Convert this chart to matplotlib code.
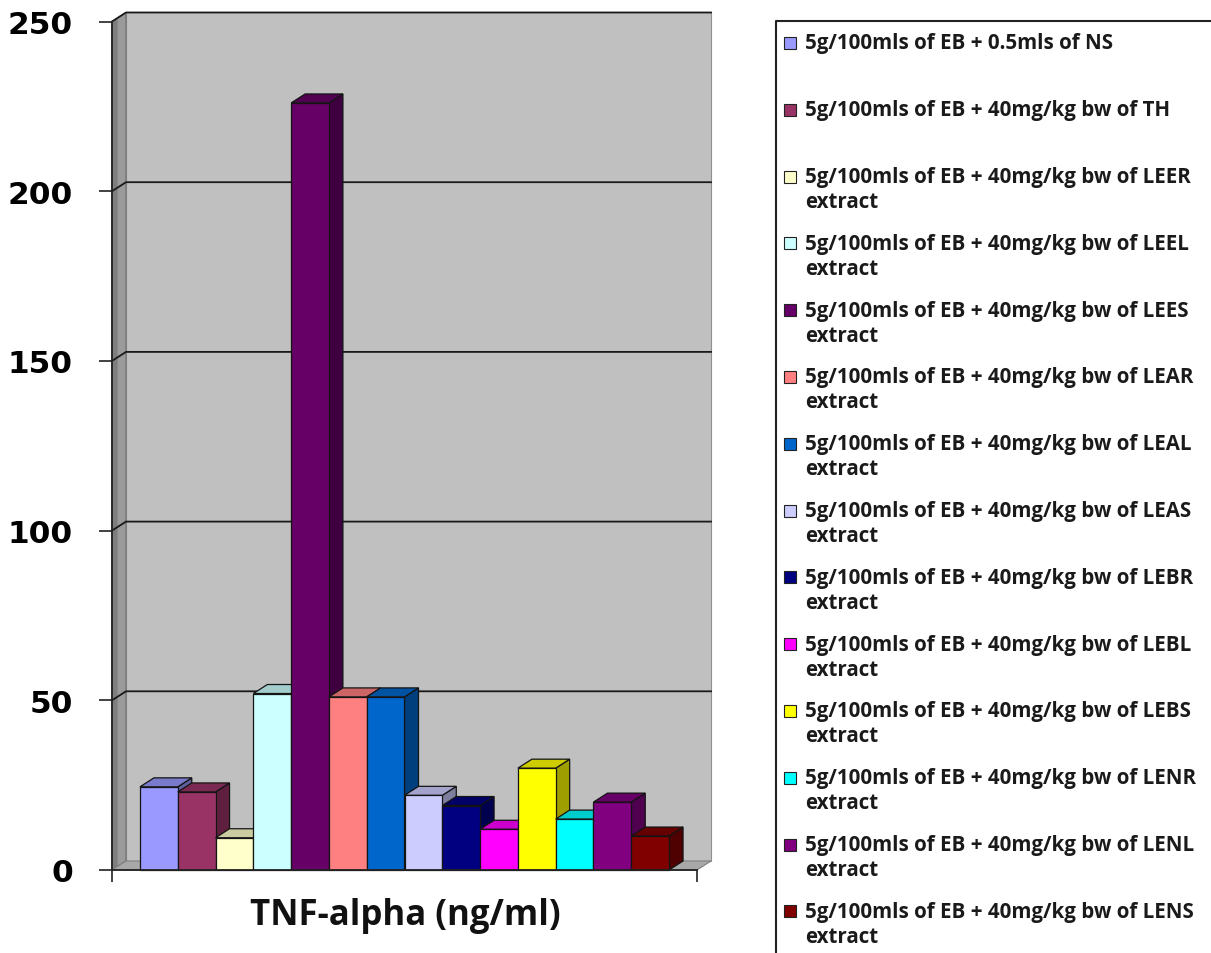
import matplotlib
matplotlib.use("Agg")
import matplotlib.pyplot as plt
from matplotlib.patches import Polygon, Rectangle
from matplotlib.lines import Line2D
from matplotlib.colors import to_rgb

# TNF-alpha per treatment group
groups = [
    "5g/100mls of EB + 0.5mls of NS",
    "5g/100mls of EB + 40mg/kg bw of TH",
    "5g/100mls of EB + 40mg/kg bw of LEER extract",
    "5g/100mls of EB + 40mg/kg bw of LEEL extract",
    "5g/100mls of EB + 40mg/kg bw of LEES extract",
    "5g/100mls of EB + 40mg/kg bw of LEAR extract",
    "5g/100mls of EB + 40mg/kg bw of LEAL extract",
    "5g/100mls of EB + 40mg/kg bw of LEAS extract",
    "5g/100mls of EB + 40mg/kg bw of LEBR extract",
    "5g/100mls of EB + 40mg/kg bw of LEBL extract",
    "5g/100mls of EB + 40mg/kg bw of LEBS extract",
    "5g/100mls of EB + 40mg/kg bw of LENR extract",
    "5g/100mls of EB + 40mg/kg bw of LENL extract",
    "5g/100mls of EB + 40mg/kg bw of LENS extract",
]
tnf = [24.5, 23, 9.5, 52, 226, 51, 51, 22, 19, 12, 30, 15, 20, 10]
colours = ["#9999FF", "#993366", "#FFFFCC", "#CCFFFF", "#660066", "#FF8080",
           "#0066CC", "#CCCCFF", "#000080", "#FF00FF", "#FFFF00", "#00FFFF",
           "#800080", "#800000"]
yticks = [0, 50, 100, 150, 200, 250]

W, H = 1211, 954
fig = plt.figure(figsize=(W / 100, H / 100), dpi=100)


def fx(x):
    return x / W


def fy(y):
    return 1 - y / H


# front plane of the 3-D box, in pixels
left, right, base, top = 112, 697, 871, 22.5
ax = fig.add_axes([fx(left), fy(base), (right - left) / W, (base - top) / H])
ax.set_facecolor("none")

n = len(tnf)
gap = 0.74
x0, x1 = -0.5 - gap, n - 0.5 + gap
ymax = yticks[-1]
ax.set_xlim(x0, x1)
ax.set_ylim(0, ymax)

# depth offset of the back wall, converted from pixels to data units
bar_px = (right - left) / (x1 - x0)
dx = 14 / bar_px
dy = 9 / ((base - top) / ymax)


def shade(c, f):
    return tuple(v * f for v in to_rgb(c))


# walls and floor
ax.add_patch(Polygon([(x0 + dx, dy), (x1 + dx, dy), (x1 + dx, ymax + dy), (x0 + dx, ymax + dy)],
                     closed=True, fc="#C0C0C0", ec="#909090", lw=0.8, clip_on=False, zorder=0))
ax.add_patch(Polygon([(x0, 0), (x0 + dx, dy), (x0 + dx, ymax + dy), (x0, ymax)],
                     closed=True, fc="#9A9A9A", ec="#6E6E6E", lw=0.8, clip_on=False, zorder=0.5))
ax.add_patch(Polygon([(x0, 0), (x0 + dx * 0.4, dy * 0.4), (x0 + dx * 0.4, ymax + dy * 0.4), (x0, ymax)],
                     closed=True, fc="#7E7E7E", ec="none", clip_on=False, zorder=0.6))
ax.add_patch(Polygon([(x0, 0), (x1, 0), (x1 + dx, dy), (x0 + dx, dy)],
                     closed=True, fc="#A8A8A8", ec="#808080", lw=0.8, clip_on=False, zorder=0.7))

# gridlines run across the left wall and the back wall
for v in yticks[1:]:
    ax.add_line(Line2D([x0, x0 + dx, x1 + dx], [v, v + dy, v + dy],
                       color="#1a1a1a", lw=1.3, clip_on=False, zorder=1))

# 3-D columns: side, top, front for each bar, left to right
for i, (v, c) in enumerate(zip(tnf, colours)):
    a, b = i - 0.5, i + 0.5
    z = 2 + i
    ax.add_patch(Polygon([(b, 0), (b + dx, dy), (b + dx, v + dy), (b, v)], closed=True,
                         fc=shade(c, 0.62), ec="#141414", lw=0.9, clip_on=False, zorder=z))
    ax.add_patch(Polygon([(a, v), (b, v), (b + dx, v + dy), (a + dx, v + dy)], closed=True,
                         fc=shade(c, 0.8), ec="#141414", lw=0.9, clip_on=False, zorder=z))
    ax.add_patch(Rectangle((a, 0), 1, v, fc=c, ec="#141414", lw=0.9, clip_on=False, zorder=z))

# axes lines and ticks
for s in ["top", "right"]:
    ax.spines[s].set_visible(False)
for s in ["left", "bottom"]:
    ax.spines[s].set_color("#222222")
    ax.spines[s].set_linewidth(1.3)
    ax.spines[s].set_zorder(30)
ax.set_yticks(yticks)
ax.set_yticklabels([str(t) for t in yticks], fontsize=22.5, fontweight="bold",
                   family="DejaVu Sans")
ax.tick_params(axis="y", length=9.4, width=1.2, pad=18.7, color="#222222")
ax.set_xticks([x0, x1])
ax.set_xticklabels(["", ""])
ax.tick_params(axis="x", length=8.6, width=1.2, color="#222222")

fig.text(fx(405), fy(916), "TNF-alpha (ng/ml)", ha="center", va="center",
         fontsize=25, fontweight="bold", family="Open Sans", color="#111111")

# legend box, open to the right and bottom
lx, ly = 776, 22
fig.add_artist(Line2D([fx(lx), fx(lx), fx(W + 5)], [fy(H + 5), fy(ly), fy(ly)],
                      transform=fig.transFigure, color="#222222", lw=1.5))
row = 66.8
for k, (label, c) in enumerate(zip(groups, colours)):
    yc = 44 + k * row
    fig.add_artist(Rectangle((fx(784), fy(yc + 6)), 12 / W, 12 / H, transform=fig.transFigure,
                             fc=c, ec="#222222", lw=0.8))
    if label.endswith(" extract"):
        lines = [label[:-len(" extract")], "extract"]
    else:
        lines = [label]
    for j, t in enumerate(lines):
        fig.text(fx(805), fy(yc + j * 25), t, ha="left", va="center",
                 fontsize=14.8, fontweight="bold", family="Open Sans", color="#1a1a1a")

fig.savefig("out.png", dpi=100, facecolor="white")
